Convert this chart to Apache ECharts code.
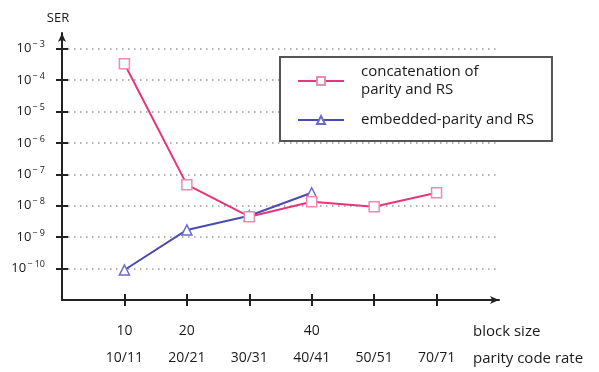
<!DOCTYPE html>
<html>
<head>
<meta charset="utf-8">
<script src="https://cdn.jsdelivr.net/npm/echarts@6/dist/echarts.min.js"></script>
<style>html,body{margin:0;padding:0;background:#fff;}#chart{width:599px;height:372px;}</style>
</head>
<body>
<div id="chart"></div>
<script>
// ---- data ----
const positions = [1, 2, 3, 4, 5, 6];
const blockSizeLabels = ['10', '20', '', '40', '', ''];
const rateLabels = ['10/11', '20/21', '30/31', '40/41', '50/51', '70/71'];
const concatSER = [3.3e-4, 4.7e-8, 4.5e-9, 1.35e-8, 9.3e-9, 2.6e-8];
const embeddedSER = [9e-11, 1.7e-9, 4.8e-9, 2.6e-8];
const yTickValues = [1e-3, 1e-4, 1e-5, 1e-6, 1e-7, 1e-8, 1e-9, 1e-10];
const seriesNames = ['concatenation of\nparity and RS', 'embedded-parity and RS'];

const FONT = 'Open Sans';
const TXT = '#1a1a1a';
const AXIS = '#222';

const chart = echarts.init(document.getElementById('chart'), null, {renderer: 'canvas'});

function expLabel(v) {
  const e = Math.round(Math.log10(v));
  return '{b|10}{s|\u2212 ' + (-e) + '}';
}

const yCommon = {
  type: 'log', logBase: 10, min: 1e-11, max: Math.pow(10, -2.5)
};

const option = {
  animation: false,
  backgroundColor: '#fff',
  grid: {left: 62, right: 100, top: 33, bottom: 72, containLabel: false, outerBoundsMode: 'none'},
  legend: {
    orient: 'vertical', left: 280, top: 57,
    padding: [6, 18, 12, 17],
    itemGap: 12, itemWidth: 46, itemHeight: 10,
    borderColor: '#555', borderWidth: 2, backgroundColor: '#fff',
    textStyle: {fontFamily: FONT, fontSize: 15, color: TXT, lineHeight: 18, padding: [0, 0, 0, 12]},
    data: seriesNames
  },
  xAxis: [
    {
      type: 'value', min: 0, max: 7, position: 'bottom',
      name: '\n\nblock size', nameLocation: 'end', nameGap: -26,
      nameTextStyle: {fontFamily: FONT, fontSize: 15, color: TXT, align: 'left', lineHeight: 32},
      axisLine: {show: true, symbol: ['none', 'arrow'], symbolSize: [6, 9], lineStyle: {color: AXIS, width: 2}},
      axisTick: {show: true, length: 6, customValues: positions, lineStyle: {color: AXIS, width: 2}},
      axisLabel: {show: true, customValues: positions, margin: 24,
        formatter: v => blockSizeLabels[positions.indexOf(v)],
        fontFamily: FONT, fontSize: 14, color: TXT},
      splitLine: {show: false}
    },
    {
      type: 'value', min: 0, max: 7, position: 'bottom',
      name: '\n\nparity code rate', nameLocation: 'end', nameGap: -26,
      nameTextStyle: {fontFamily: FONT, fontSize: 15, color: TXT, align: 'left', lineHeight: 59},
      axisLine: {show: false},
      axisTick: {show: true, inside: true, length: 6, customValues: positions, lineStyle: {color: AXIS, width: 2}},
      axisLabel: {show: true, customValues: positions, margin: 51,
        formatter: v => rateLabels[positions.indexOf(v)],
        fontFamily: FONT, fontSize: 14, color: TXT},
      splitLine: {show: false}
    }
  ],
  yAxis: [
    Object.assign({}, yCommon, {
      position: 'left',
      name: 'SER', nameLocation: 'end', nameGap: 8,
      nameTextStyle: {fontFamily: FONT, fontSize: 13, color: TXT, padding: [0, 8, 0, 0]},
      axisLine: {show: true, symbol: ['none', 'arrow'], symbolSize: [6, 9], lineStyle: {color: AXIS, width: 2}},
      axisTick: {show: true, length: 6, customValues: yTickValues, lineStyle: {color: AXIS, width: 2}},
      axisLabel: {show: true, customValues: yTickValues, margin: 17, formatter: expLabel,
        rich: {
          b: {fontFamily: FONT, fontSize: 13, color: TXT},
          s: {fontFamily: FONT, fontSize: 9, color: TXT, padding: [0, 0, 8, 1]}
        }},
      splitLine: {show: true, showMinLine: true, showMaxLine: true,
        lineStyle: {color: '#999', width: 1.5, type: [1.5, 4.5]}}
    }),
    Object.assign({}, yCommon, {
      position: 'left',
      axisLine: {show: false},
      axisTick: {show: true, inside: true, length: 6, customValues: yTickValues, lineStyle: {color: AXIS, width: 2}},
      axisLabel: {show: false},
      splitLine: {show: false}
    })
  ],
  series: [
    {
      name: seriesNames[1], type: 'line', xAxisIndex: 0, yAxisIndex: 0, z: 2,
      data: embeddedSER.map((v, i) => [positions[i], v]),
      symbol: 'triangle', symbolSize: 10,
      lineStyle: {color: '#4a4ab0', width: 2},
      itemStyle: {color: '#fff', borderColor: '#6a6ac8', borderWidth: 1.5}
    },
    {
      name: seriesNames[0], type: 'line', xAxisIndex: 0, yAxisIndex: 0, z: 3,
      data: concatSER.map((v, i) => [positions[i], v]),
      symbol: 'rect', symbolSize: 10,
      lineStyle: {color: '#e6357a', width: 2},
      itemStyle: {color: '#fff', borderColor: '#f08ab0', borderWidth: 1.5}
    }
  ]
};
chart.setOption(option);
</script>
</body>
</html>
